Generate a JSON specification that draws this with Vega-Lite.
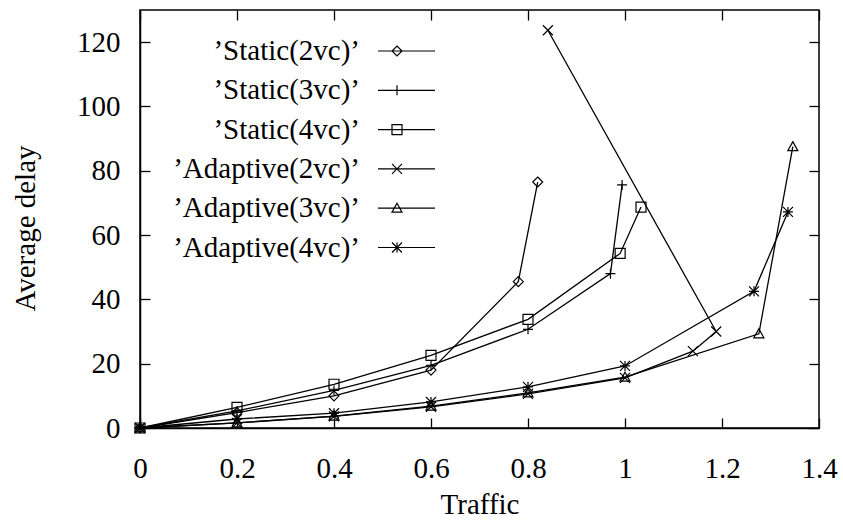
{
  "$schema": "https://vega.github.io/schema/vega-lite/v6.json",
  "width": 679,
  "height": 418,
  "autosize": {"type": "none"},
  "padding": {"left": 140, "top": 10, "right": 24, "bottom": 95},
  "background": "white",
  "config": {
    "view": {"stroke": "black", "strokeWidth": 1.5},
    "font": "Liberation Serif",
    "axis": {
      "grid": false,
      "domainColor": "black",
      "domainWidth": 1.5,
      "tickColor": "black",
      "tickWidth": 1.3,
      "tickSize": -10,
      "labelFont": "Liberation Serif",
      "labelFontSize": 29,
      "labelColor": "black",
      "titleFont": "Liberation Serif",
      "titleFontSize": 29,
      "titleFontWeight": "normal",
      "titleColor": "black"
    }
  },
  "data": {
    "values": [
      {"s": "’Static(2vc)’", "i": 0, "x": 0, "y": 0},
      {"s": "’Static(2vc)’", "i": 1, "x": 0.2, "y": 4.8},
      {"s": "’Static(2vc)’", "i": 2, "x": 0.4, "y": 10},
      {"s": "’Static(2vc)’", "i": 3, "x": 0.6, "y": 18},
      {"s": "’Static(2vc)’", "i": 4, "x": 0.78, "y": 45.5},
      {"s": "’Static(2vc)’", "i": 5, "x": 0.82, "y": 76.5},
      {"s": "’Static(3vc)’", "i": 0, "x": 0, "y": 0},
      {"s": "’Static(3vc)’", "i": 1, "x": 0.2, "y": 5.3},
      {"s": "’Static(3vc)’", "i": 2, "x": 0.4, "y": 11.7},
      {"s": "’Static(3vc)’", "i": 3, "x": 0.6, "y": 19.5},
      {"s": "’Static(3vc)’", "i": 4, "x": 0.8, "y": 30.7},
      {"s": "’Static(3vc)’", "i": 5, "x": 0.97, "y": 48},
      {"s": "’Static(3vc)’", "i": 6, "x": 0.994, "y": 75.6},
      {"s": "’Static(4vc)’", "i": 0, "x": 0, "y": 0},
      {"s": "’Static(4vc)’", "i": 1, "x": 0.2, "y": 6.4},
      {"s": "’Static(4vc)’", "i": 2, "x": 0.4, "y": 13.6},
      {"s": "’Static(4vc)’", "i": 3, "x": 0.6, "y": 22.6},
      {"s": "’Static(4vc)’", "i": 4, "x": 0.8, "y": 33.8},
      {"s": "’Static(4vc)’", "i": 5, "x": 0.99, "y": 54.3},
      {"s": "’Static(4vc)’", "i": 6, "x": 1.033, "y": 68.7},
      {"s": "’Adaptive(2vc)’", "i": 0, "x": 0, "y": 0},
      {"s": "’Adaptive(2vc)’", "i": 1, "x": 0.2, "y": 1.6},
      {"s": "’Adaptive(2vc)’", "i": 2, "x": 0.4, "y": 3.6},
      {"s": "’Adaptive(2vc)’", "i": 3, "x": 0.6, "y": 6.6},
      {"s": "’Adaptive(2vc)’", "i": 4, "x": 0.8, "y": 10.6},
      {"s": "’Adaptive(2vc)’", "i": 5, "x": 1.0, "y": 15.6},
      {"s": "’Adaptive(2vc)’", "i": 6, "x": 1.14, "y": 23.9},
      {"s": "’Adaptive(2vc)’", "i": 7, "x": 1.188, "y": 30},
      {"s": "’Adaptive(2vc)’", "i": 8, "x": 0.841, "y": 123.7},
      {"s": "’Adaptive(3vc)’", "i": 0, "x": 0, "y": 0},
      {"s": "’Adaptive(3vc)’", "i": 1, "x": 0.2, "y": 1.6},
      {"s": "’Adaptive(3vc)’", "i": 2, "x": 0.4, "y": 3.7},
      {"s": "’Adaptive(3vc)’", "i": 3, "x": 0.6, "y": 6.8},
      {"s": "’Adaptive(3vc)’", "i": 4, "x": 0.8, "y": 10.9},
      {"s": "’Adaptive(3vc)’", "i": 5, "x": 1.0, "y": 15.8},
      {"s": "’Adaptive(3vc)’", "i": 6, "x": 1.276, "y": 29.3},
      {"s": "’Adaptive(3vc)’", "i": 7, "x": 1.346, "y": 87.5},
      {"s": "’Adaptive(4vc)’", "i": 0, "x": 0, "y": 0},
      {"s": "’Adaptive(4vc)’", "i": 1, "x": 0.2, "y": 2.8},
      {"s": "’Adaptive(4vc)’", "i": 2, "x": 0.4, "y": 4.6},
      {"s": "’Adaptive(4vc)’", "i": 3, "x": 0.6, "y": 8.1},
      {"s": "’Adaptive(4vc)’", "i": 4, "x": 0.8, "y": 12.8},
      {"s": "’Adaptive(4vc)’", "i": 5, "x": 1.0, "y": 19.3},
      {"s": "’Adaptive(4vc)’", "i": 6, "x": 1.266, "y": 42.5},
      {"s": "’Adaptive(4vc)’", "i": 7, "x": 1.336, "y": 67.2}
    ]
  },
  "resolve": {
    "axis": {"x": "independent", "y": "independent"},
    "scale": {"shape": "independent"},
    "legend": {"shape": "independent"}
  },
  "layer": [
    {
      "mark": {"type": "line", "color": "black", "strokeWidth": 1.3},
      "encoding": {
        "x": {
          "field": "x", "type": "quantitative",
          "scale": {"domain": [0, 1.4], "nice": false, "zero": false},
          "axis": {
            "orient": "bottom", "values": [0, 0.2, 0.4, 0.6, 0.8, 1, 1.2, 1.4],
            "format": "~g", "labelPadding": 36, "labelFlush": false,
            "title": "Traffic", "titleY": 85, "titleBaseline": "alphabetic"
          }
        },
        "y": {
          "field": "y", "type": "quantitative",
          "scale": {"domain": [0, 130], "nice": false},
          "axis": {
            "orient": "left", "values": [0, 20, 40, 60, 80, 100, 120],
            "format": "d", "labelPadding": 30,
            "title": "Average delay", "titleX": -115, "titleY": 218,
            "titleBaseline": "middle", "titleAngle": -90
          }
        },
        "detail": {"field": "s"},
        "order": {"field": "i", "type": "quantitative"}
      }
    },
    {
      "mark": {"type": "point", "color": "black", "filled": false, "strokeWidth": 1.2, "size": 100, "opacity": 1},
      "encoding": {
        "x": {
          "field": "x", "type": "quantitative",
          "axis": {"orient": "top", "values": [0, 0.2, 0.4, 0.6, 0.8, 1, 1.2, 1.4], "labels": false, "domain": false, "title": null}
        },
        "y": {
          "field": "y", "type": "quantitative",
          "axis": {"orient": "right", "values": [0, 20, 40, 60, 80, 100, 120], "labels": false, "domain": false, "title": null}
        },
        "shape": {
          "field": "s", "type": "nominal", "legend": null,
          "scale": {
            "domain": ["’Static(2vc)’", "’Static(3vc)’", "’Static(4vc)’", "’Adaptive(2vc)’", "’Adaptive(3vc)’", "’Adaptive(4vc)’"],
            "range": [
              "M0,-1L1,0L0,1L-1,0Z",
              "M-1,0H1M0,-1V1",
              "M-1,-1H1V1H-1Z",
              "M-1,-1L1,1M-1,1L1,-1",
              "M0,-1L1,0.8H-1Z",
              "M-1,0H1M0,-1V1M-1,-1L1,1M-1,1L1,-1"
            ]
          }
        }
      }
    },
    {
      "transform": [{"filter": "datum.i < 0"}],
      "mark": {"type": "point", "color": "black", "filled": false, "strokeWidth": 1.2, "size": 100, "opacity": 1},
      "encoding": {
        "x": {"field": "x", "type": "quantitative", "axis": null},
        "y": {"field": "y", "type": "quantitative", "axis": null},
        "shape": {
          "field": "s", "type": "nominal",
          "scale": {
            "domain": ["’Static(2vc)’", "’Static(3vc)’", "’Static(4vc)’", "’Adaptive(2vc)’", "’Adaptive(3vc)’", "’Adaptive(4vc)’"],
            "range": [
              "M-3.8,0H7.6M0,-1L1,0L0,1L-1,0Z",
              "M-3.8,0H7.6M0,-1V1",
              "M-3.8,0H7.6M-1,-1H1V1H-1Z",
              "M-3.8,0H7.6M-1,-1L1,1M-1,1L1,-1",
              "M-3.8,0H7.6M0,-1L1,0.8H-1Z",
              "M-3.8,0H7.6M0,-1V1M-1,-1L1,1M-1,1L1,-1"
            ]
          },
          "legend": {
            "orient": "none", "legendX": 242.5, "legendY": 26.5,
            "title": null, "padding": 0,
            "labelAlign": "right", "labelOffset": -51.5,
            "labelFont": "Liberation Serif", "labelFontSize": 29, "labelColor": "black",
            "labelLimit": 0,
            "symbolSize": 100, "symbolStrokeWidth": 1.2, "symbolStrokeColor": "black",
            "symbolFillColor": "transparent",
            "rowPadding": 9.3
          }
        }
      }
    }
  ]
}
